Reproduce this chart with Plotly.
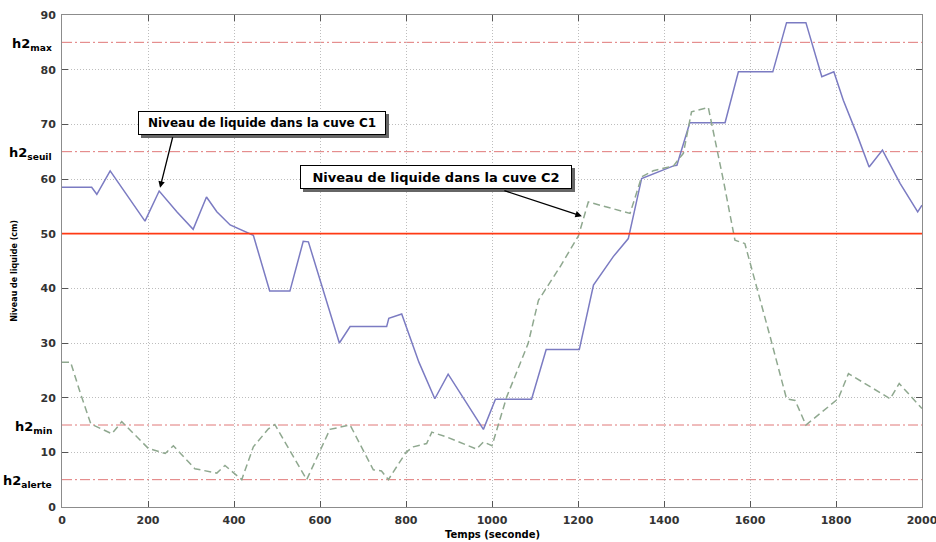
import plotly.graph_objects as go

# ---------------- data ----------------
t_c1 = [0, 69, 81, 112, 193, 226, 267, 305, 336, 360, 391, 445, 483, 530, 561, 573,
        645, 670, 755, 760, 790, 830, 867, 898, 980, 1008, 1092, 1126, 1203, 1236,
        1282, 1317, 1348, 1422, 1430, 1460, 1542, 1573, 1653, 1685, 1730, 1767, 1795,
        1817, 1848, 1877, 1908, 1949, 1990, 2000]
v_c1 = [58.5, 58.5, 57.2, 61.5, 52.3, 57.8, 54.0, 50.8, 56.7, 54.0, 51.6, 49.7, 39.5,
        39.5, 48.6, 48.5, 30.0, 33.0, 33.0, 34.5, 35.3, 26.5, 19.8, 24.3, 14.2, 19.7,
        19.7, 28.8, 28.8, 40.6, 45.8, 49.1, 60.1, 62.4, 62.5, 70.3, 70.3, 79.6, 79.6,
        88.6, 88.6, 78.7, 79.6, 74.4, 68.3, 62.2, 65.3, 59.2, 54.0, 55.2]

t_c2 = [0, 20, 42, 67, 116, 139, 201, 240, 259, 309, 360, 379, 418, 445, 480, 495,
        569, 623, 670, 724, 743, 759, 800, 817, 848, 860, 895, 964, 980, 1000, 1034,
        1084, 1108, 1158, 1201, 1224, 1321, 1348, 1375, 1422, 1445, 1464, 1503, 1538,
        1565, 1588, 1647, 1685, 1705, 1730, 1805, 1829, 1926, 1947, 2000]
v_c2 = [26.5, 26.5, 21.0, 15.2, 13.4, 15.6, 10.7, 9.8, 11.2, 7.0, 6.2, 7.6, 5.0, 11.0,
        14.3, 15.1, 5.0, 14.2, 15.0, 6.8, 6.6, 5.0, 10.0, 11.0, 11.6, 13.7, 12.8, 10.6,
        11.9, 11.2, 20.1, 29.9, 37.8, 43.9, 49.6, 55.8, 53.7, 60.4, 61.5, 62.4, 64.7,
        72.3, 73.1, 59.8, 48.8, 48.2, 31.1, 19.8, 19.5, 15.0, 19.8, 24.4, 19.8, 22.6, 18.0]

x_ticks = list(range(0, 2001, 200))
y_ticks = list(range(0, 91, 10))

threshold_values = [85, 65, 15, 5]
threshold_labels = ["h2<sub>max</sub>", "h2<sub>seuil</sub>", "h2<sub>min</sub>", "h2<sub>alerte</sub>"]
consigne = 50

label_c1 = "Niveau de liquide dans la cuve C1"
label_c2 = "Niveau de liquide dans la cuve C2"
x_title = "Temps (seconde)"
y_title = "Niveau de liquide (cm)"

FONT = "DejaVu Sans"

# ---------------- figure ----------------
fig = go.Figure()

fig.add_trace(go.Scatter(x=t_c1, y=v_c1, mode="lines",
                         line=dict(color="#7b7bc2", width=1.5), showlegend=False))
fig.add_trace(go.Scatter(x=t_c2, y=v_c2, mode="lines",
                         line=dict(color="#8fa88f", width=1.5, dash="7px,4px"), showlegend=False))

shapes = []
for v in threshold_values:
    shapes.append(dict(type="line", xref="paper", yref="y", x0=0, x1=1, y0=v, y1=v,
                       line=dict(color="#e07878", width=1, dash="10px,3px,2px,3px"),
                       layer="below"))
shapes.append(dict(type="line", xref="paper", yref="y", x0=0, x1=1, y0=consigne, y1=consigne,
                   line=dict(color="#ff3a14", width=1.6), layer="above"))

annotations = []
# threshold labels on the left
for v, lab in zip(threshold_values, threshold_labels):
    annotations.append(dict(xref="paper", yref="y", x=0, y=v, xanchor="right", yanchor="middle",
                            xshift=-8, yshift=-2, showarrow=False,
                            text="<b>" + lab + "</b>",
                            font=dict(family=FONT, size=13, color="#000")))

# boxed labels with shadow
def boxed(text, xc, yc, w, size):
    common = dict(x=xc, y=yc, xref="x", yref="y", showarrow=False,
                  width=w, height=16, borderpad=3, borderwidth=1,
                  font=dict(family=FONT, size=size, color="#000"))
    annotations.append(dict(common, text="<b>" + text + "</b>", xshift=3, yshift=-3,
                            bgcolor="#666666", bordercolor="#666666",
                            font=dict(family=FONT, size=size, color="rgba(0,0,0,0)")))
    annotations.append(dict(common, text="<b>" + text + "</b>",
                            bgcolor="#ffffff", bordercolor="#000000"))

boxed(label_c1, 465, 70.3, 240, 12)
boxed(label_c2, 870, 60.4, 264, 13)

# arrows
annotations.append(dict(x=228, y=58.4, xref="x", yref="y", ax=13, ay=-52, text="",
                        showarrow=True, arrowhead=2, arrowsize=1, arrowwidth=1.3,
                        arrowcolor="#000"))
annotations.append(dict(x=1209, y=53.2, xref="x", yref="y", ax=-79, ay=-26, text="",
                        showarrow=True, arrowhead=2, arrowsize=1, arrowwidth=1.3,
                        arrowcolor="#000"))

# axis titles
annotations.append(dict(xref="paper", yref="paper", x=0.5, y=0, yshift=-27,
                        xanchor="center", yanchor="middle", showarrow=False,
                        text="<b>" + x_title + "</b>",
                        font=dict(family=FONT, size=10, color="#000")))
annotations.append(dict(xref="paper", yref="paper", x=0, y=0.48, xshift=-47,
                        xanchor="center", yanchor="middle", showarrow=False, textangle=-90,
                        text="<b>" + y_title + "</b>",
                        font=dict(family=FONT, size=8, color="#000")))

axis_common = dict(showgrid=True, griddash="1px,2px", gridcolor="#bdbdbd", gridwidth=1,
                   zeroline=False, showline=True, linecolor="#8c8c8c", linewidth=1,
                   mirror="ticks", ticks="inside", ticklen=6, tickcolor="#555",
                   automargin=False,
                   tickfont=dict(family=FONT, size=11, color="#333", weight="bold"))

fig.update_layout(
    width=936, height=542,
    margin=dict(l=62, r=14, t=15, b=35, autoexpand=False),
    paper_bgcolor="white", plot_bgcolor="white",
    xaxis=dict(axis_common, range=[0, 2000], tickvals=x_ticks, ticklabelstandoff=3,
               ticklabeloverflow="allow"),
    yaxis=dict(axis_common, range=[0, 90], tickvals=y_ticks, ticklabelstandoff=3),
    shapes=shapes, annotations=annotations,
)

fig.write_html("out.html", config={"displayModeBar": False},
               post_script="document.body.style.margin='0';document.body.style.overflow='hidden';")
